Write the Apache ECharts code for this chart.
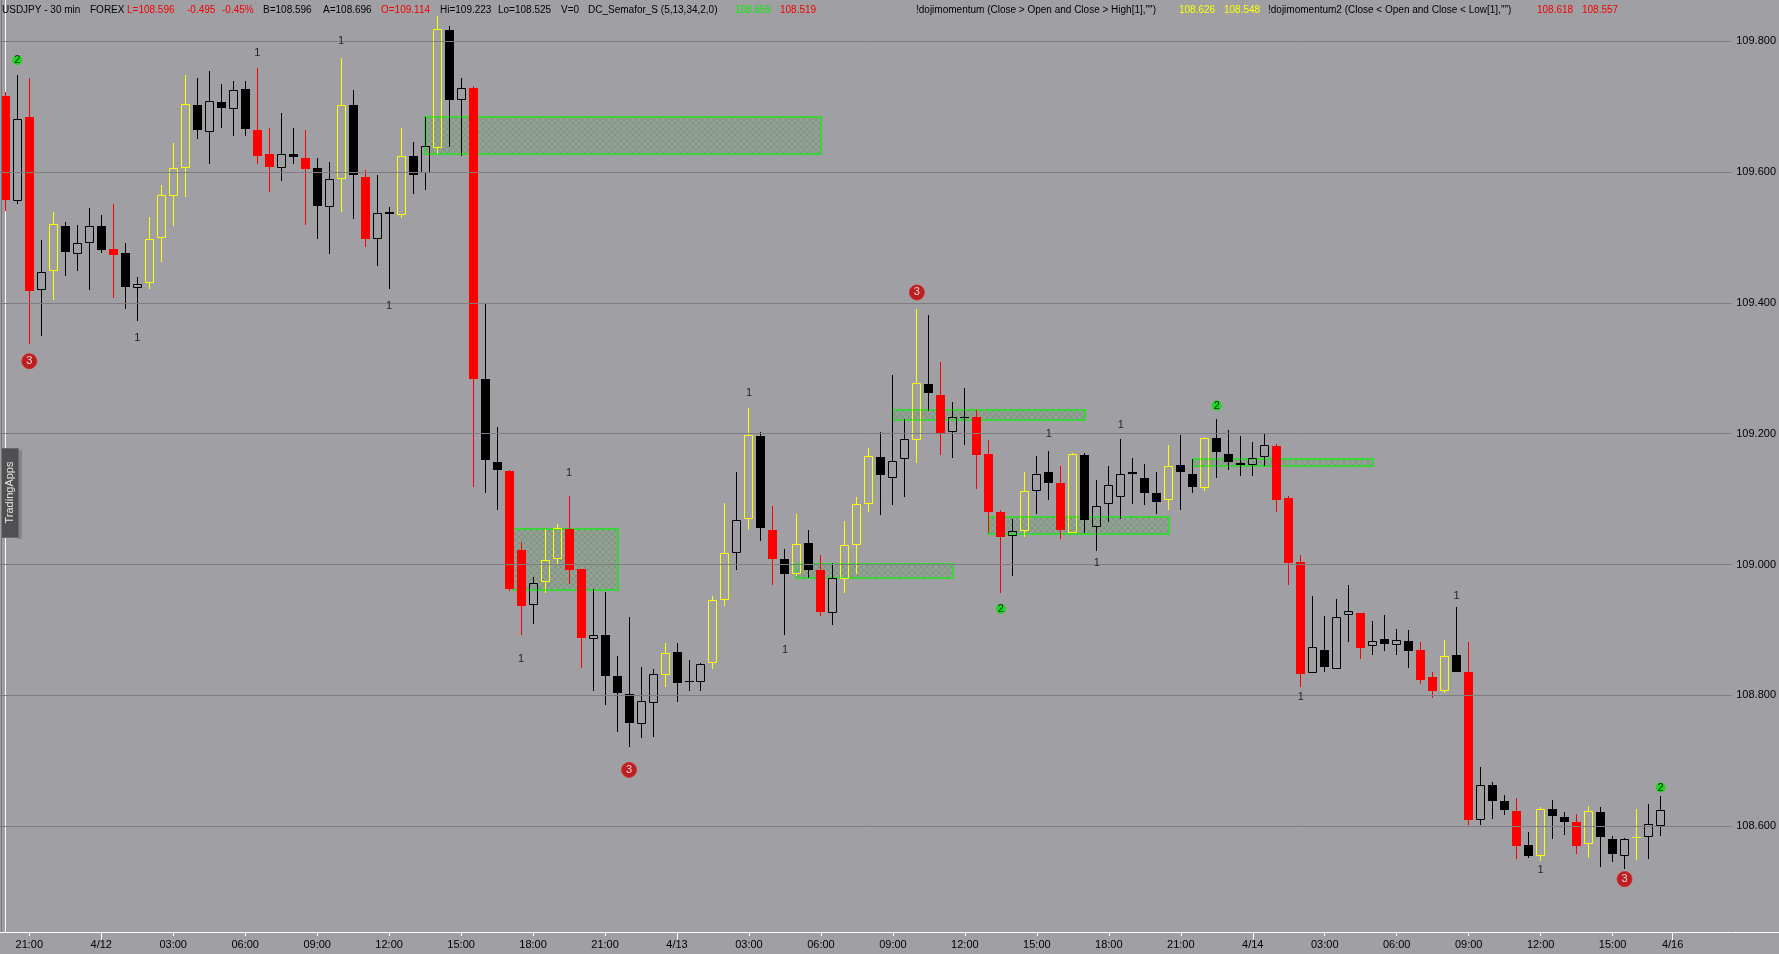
<!DOCTYPE html>
<html><head><meta charset="utf-8">
<script src="https://cdn.jsdelivr.net/npm/echarts@6/dist/echarts.min.js"></script>
<style>html,body{margin:0;padding:0;background:#a0a0a4;overflow:hidden}#chart{width:1779px;height:954px}</style>
</head><body><div id="chart"></div>
<script>
// ---- data: USDJPY 30 min bars, bar 0 = 4/11 20:00 ----
const opens = [109.717,109.556,109.684,109.420,109.449,109.518,109.475,109.492,109.518,109.483,
109.476,109.423,109.431,109.500,109.564,109.607,109.703,109.662,109.707,109.697,
109.727,109.665,109.627,109.607,109.628,109.621,109.607,109.546,109.589,109.703,
109.593,109.497,109.539,109.534,109.624,109.598,109.637,109.817,109.710,109.729,
109.284,109.157,109.143,109.022,108.938,108.974,109.009,109.054,108.993,108.886,
108.893,108.830,108.802,108.756,108.789,108.831,108.866,108.822,108.821,108.849,
108.945,109.017,109.070,109.197,109.053,109.009,108.985,109.033,108.992,108.926,
108.978,109.030,109.093,109.165,109.133,109.161,109.190,109.276,109.259,109.202,
109.226,109.226,109.169,109.080,109.044,109.051,109.113,109.142,109.125,109.048,
109.168,109.057,109.092,109.104,109.142,109.133,109.110,109.098,109.152,109.139,
109.117,109.194,109.169,109.155,109.152,109.164,109.181,109.101,109.004,108.834,
108.870,108.841,108.923,108.926,108.875,108.886,108.877,108.883,108.869,108.828,
108.807,108.862,108.836,108.609,108.663,108.639,108.623,108.571,108.554,108.626,
108.614,108.606,108.573,108.621,108.580,108.554,108.582,108.583,108.600];
const highs = [109.722,109.749,109.744,109.496,109.539,109.524,109.519,109.545,109.535,109.551,
109.492,109.439,109.532,109.581,109.645,109.749,109.744,109.755,109.735,109.740,
109.740,109.759,109.668,109.691,109.668,109.665,109.621,109.616,109.774,109.725,
109.604,109.596,109.546,109.667,109.646,109.684,109.839,109.823,109.744,109.732,
109.399,109.210,109.145,109.034,108.981,109.054,109.062,109.105,108.993,108.962,
108.958,108.860,108.920,108.843,108.841,108.880,108.880,108.854,108.849,108.952,
109.094,109.142,109.239,109.203,109.089,109.023,109.078,109.053,109.015,109.003,
109.067,109.103,109.178,109.203,109.290,109.223,109.391,109.382,109.310,109.249,
109.270,109.237,109.191,109.083,109.069,109.141,109.166,109.174,109.151,109.171,
109.170,109.129,109.151,109.192,109.163,109.154,109.142,109.183,109.198,109.161,
109.195,109.223,109.205,109.196,109.187,109.200,109.184,109.105,109.015,108.952,
108.922,108.948,108.969,108.926,108.914,108.923,108.902,108.900,108.881,108.836,
108.884,108.935,108.881,108.691,108.667,108.648,108.643,108.591,108.629,108.640,
108.621,108.618,108.631,108.629,108.585,108.582,108.626,108.634,108.646];
const lows = [109.540,109.551,109.337,109.350,109.405,109.441,109.449,109.420,109.476,109.408,
109.390,109.373,109.422,109.463,109.518,109.562,109.650,109.612,109.667,109.655,
109.656,109.612,109.569,109.586,109.613,109.519,109.498,109.475,109.539,109.528,
109.485,109.456,109.421,109.530,109.566,109.572,109.628,109.639,109.625,109.118,
109.109,109.084,108.960,108.893,108.909,108.957,109.001,108.970,108.842,108.806,
108.785,108.744,108.721,108.734,108.737,108.812,108.790,108.807,108.807,108.841,
108.936,108.991,109.053,109.036,108.968,108.892,108.982,108.979,108.922,108.908,
108.957,108.986,109.081,109.076,109.091,109.103,109.156,109.235,109.167,109.163,
109.183,109.116,109.048,108.957,108.983,109.042,109.077,109.099,109.039,109.048,
109.048,109.021,109.065,109.069,109.093,109.091,109.077,109.084,109.083,109.109,
109.112,109.132,109.145,109.136,109.135,109.150,109.081,108.968,108.812,108.834,
108.836,108.840,108.882,108.856,108.861,108.868,108.861,108.842,108.818,108.796,
108.804,108.836,108.602,108.602,108.611,108.617,108.550,108.552,108.546,108.580,
108.587,108.557,108.551,108.537,108.545,108.535,108.548,108.550,108.585];
const closes = [109.557,109.681,109.418,109.448,109.520,109.478,109.492,109.517,109.481,109.473,
109.424,109.429,109.498,109.565,109.607,109.704,109.665,109.709,109.698,109.726,
109.666,109.624,109.608,109.628,109.623,109.605,109.548,109.589,109.702,109.596,
109.498,109.537,109.536,109.624,109.596,109.640,109.819,109.711,109.729,109.284,
109.160,109.145,108.962,108.937,108.972,109.007,109.056,108.991,108.888,108.893,
108.829,108.803,108.757,108.792,108.832,108.864,108.819,108.821,108.848,108.946,
109.018,109.068,109.198,109.056,109.009,108.985,109.031,108.992,108.928,108.979,
109.030,109.093,109.166,109.137,109.159,109.192,109.277,109.262,109.199,109.225,
109.225,109.167,109.081,109.042,109.052,109.112,109.138,109.125,109.053,109.169,
109.068,109.090,109.121,109.139,109.138,109.110,109.096,109.150,109.142,109.118,
109.194,109.172,109.157,109.152,109.163,109.182,109.098,109.003,108.833,108.874,
108.844,108.920,108.929,108.873,108.883,108.879,108.884,108.868,108.824,108.806,
108.860,108.836,108.610,108.663,108.638,108.625,108.570,108.555,108.626,108.616,
108.607,108.570,108.623,108.583,108.557,108.580,108.584,108.603,108.625];

const priceTicks = [108.6, 108.8, 109.0, 109.2, 109.4, 109.6, 109.8];
const timeTickBars = [2,8,14,20,26,32,38,44,50,56,62,68,74,80,86,92,98,104,110,116,122,128,134,139];
const timeTickLabels = ['21:00','4/12','03:00','06:00','09:00','12:00','15:00','18:00','21:00','4/13','03:00','06:00',
  '09:00','12:00','15:00','18:00','21:00','4/14','03:00','06:00','09:00','12:00','15:00','4/16'];
const dayTickBars = [8, 56, 104, 139];

// DC_Semafor levels: [bar, price]
const semafor1 = [[11,109.346],[21,109.782],[28,109.800],[32,109.396],[43,108.856],[47,109.140],[62,109.263],
  [65,108.869],[87,109.199],[91,109.002],[93,109.213],[108,108.798],[121,108.952],[128,108.533]];
const semafor2 = [[1,109.771],[83,108.932],[101,109.243],[138,108.659]];
const semafor3 = [[2,109.311],[52,108.686],[76,109.416],[135,108.519]];

// zones: [fromBar, toBar, lowPrice, highPrice]
const zones = [[35,68,109.627,109.685],[42.3,51.05,108.961,109.054],[65.9,79,108.979,109.001],
  [74,90,109.221,109.237],[82,97,109.047,109.073],[99,114,109.150,109.161]];

const lastPrice = 108.625;

// header
const RED = '#f00000', GREEN = '#00f000', YELLOW = '#ffff00';
const header = [
 ['USDJPY - 30 min','#000',2],['FOREX','#000',90],['L=108.596',RED,127],['-0.495',RED,187],['-0.45%',RED,222],
 ['B=108.596','#000',263],['A=108.696','#000',323],['O=109.114',RED,381],['Hi=109.223','#000',440],
 ['Lo=108.525','#000',498],['V=0','#000',561],['DC_Semafor_S (5,13,34,2,0)','#000',588],
 ['108.659',GREEN,735],['108.519',RED,780],
 ['!dojimomentum (Close > Open and Close > High[1],"")','#000',916],['108.626',YELLOW,1179],['108.548',YELLOW,1224],
 ['!dojimomentum2 (Close < Open and Close < Low[1],"")','#000',1268],['108.618',RED,1537],['108.557',RED,1582]
];

// ---- candle classification (dojimomentum rules) ----
function candleType(k){
  const o = opens[k], c = closes[k];
  if (c < o) return (k === 0 || c < lows[k-1]) ? 0 : 1;   // 0 red, 1 black
  return (k > 0 && c > highs[k-1]) ? 2 : 3;                // 2 yellow, 3 hollow
}
const candleData = opens.map((o,k) => [k, o, closes[k], lows[k], highs[k], candleType(k)]);
const CANDLE_COLORS = ['#ff0000','#000000','#ffff00','#000000'];

function renderCandle(params, api){
  const k = api.value(0), o = api.value(1), c = api.value(2), l = api.value(3), h = api.value(4), t = api.value(5);
  const pO = api.coord([k,o]), pC = api.coord([k,c]), pH = api.coord([k,h]), pL = api.coord([k,l]);
  const xc = Math.floor(pO[0]) + 0.5;
  let top = Math.round(Math.min(pO[1], pC[1])), bot = Math.round(Math.max(pO[1], pC[1]));
  if (bot - top < 1) bot = top + 1;
  const yh = Math.round(pH[1]), yl = Math.round(pL[1]);
  const col = CANDLE_COLORS[t];
  const ch = [];
  if (yh < top) ch.push({type:'line', shape:{x1:xc,y1:yh,x2:xc,y2:top}, style:{stroke:col,lineWidth:1}});
  if (yl > bot) ch.push({type:'line', shape:{x1:xc,y1:bot,x2:xc,y2:yl}, style:{stroke:col,lineWidth:1}});
  if (t < 2) {
    ch.push({type:'rect', shape:{x:xc-4.5,y:top,width:9,height:bot-top}, style:{fill:col}});
  } else {
    ch.push({type:'rect', shape:{x:xc-4,y:top+0.5,width:8,height:Math.max(bot-top-1,0)}, style:{fill:'none',stroke:col,lineWidth:1}});
  }
  return {type:'group', children:ch};
}

const pc = document.createElement('canvas'); pc.width = 6; pc.height = 6;
(function(){
  const g = pc.getContext('2d');
  g.fillStyle = 'rgba(105,170,105,0.26)'; g.fillRect(0,0,6,6);
  g.strokeStyle = 'rgba(95,112,95,0.30)'; g.lineWidth = 1;
  g.beginPath(); g.moveTo(0,0); g.lineTo(6,6); g.moveTo(6,0); g.lineTo(0,6); g.stroke();
})();

function renderZone(params, api){
  const p1 = api.coord([api.value(0), api.value(3)]);
  const p2 = api.coord([api.value(1), api.value(2)]);
  const x = Math.round(p1[0]), y = Math.round(p1[1]);
  return {type:'rect', shape:{x:x, y:y, width:Math.round(p2[0])-x, height:Math.round(p2[1])-y},
    style:{fill:{image:pc, repeat:'repeat'}, stroke:'#3ad43a', lineWidth:2}};
}

const FONT = 'Liberation Sans, Arial, sans-serif';
const chart = echarts.init(document.getElementById('chart'), null, {renderer:'canvas'});

const graphics = header.map(h => ({type:'text', left:h[2], top:5, z:100,
  style:{text:h[0], fill:h[1], font:'10px ' + FONT}}));
graphics.push({type:'rect', left:18, top:450, z:90, shape:{width:4, height:89}, style:{fill:'#86868a'}});
graphics.push({type:'rect', left:1, top:448, z:91, shape:{width:17, height:89}, style:{fill:'#505052', stroke:'#6a6a6e', lineWidth:1}});
graphics.push({type:'text', x:9.5, y:492.5, rotation:Math.PI/2, z:92,
  style:{text:'TradingApps', fill:'#e6e6e6', font:'11px ' + FONT, align:'center', verticalAlign:'middle'}});
graphics.push({type:'line', z:95, shape:{x1:1.5,y1:0,x2:1.5,y2:932}, style:{stroke:'#76767a', lineWidth:1}});
graphics.push({type:'line', z:95, shape:{x1:1732,y1:932.5,x2:1779,y2:932.5}, style:{stroke:'#ffffff', lineWidth:1}});

const option = {
  backgroundColor:'#a0a0a4',
  animation:false,
  grid:{left:0, right:47, top:0, bottom:22},
  xAxis:[{
    type:'value', min:-0.4417, max:143.89,
    splitLine:{show:false},
    axisLine:{show:true, lineStyle:{color:'#ffffff', width:1}},
    axisTick:{show:true, customValues:timeTickBars, length:4, lineStyle:{color:'#ffffff'}},
    axisLabel:{show:true, customValues:timeTickBars, margin:7, color:'#000', fontSize:11, fontFamily:FONT,
      formatter:v => { const i = timeTickBars.indexOf(Math.round(v)); return i >= 0 ? timeTickLabels[i] : ''; }}
  },{
    type:'value', min:-0.4417, max:143.89, position:'bottom',
    splitLine:{show:false}, axisLine:{show:false}, axisLabel:{show:false},
    axisTick:{show:true, customValues:dayTickBars, length:8, lineStyle:{color:'#ffffff'}}
  }],
  yAxis:{
    type:'value', position:'right', min:108.4381, max:109.8632, scale:true,
    splitLine:{show:false},
    axisLine:{show:true, lineStyle:{color:'#ffffff', width:1}},
    axisTick:{show:true, customValues:priceTicks, length:4, lineStyle:{color:'#ffffff'}},
    axisLabel:{show:true, customValues:priceTicks, margin:5, color:'#000', fontSize:11, fontFamily:FONT,
      formatter:v => v.toFixed(3)}
  },
  series:[
    {type:'custom', name:'zones', z:1, clip:true, data:zones, renderItem:renderZone,
      encode:{x:[0,1], y:[2,3]}, silent:true,
      markLine:{silent:true, symbol:['none','none'], label:{show:false}, animation:false,
        lineStyle:{color:'#7e7e82', width:1, type:'solid'},
        data:priceTicks.map(v => ({yAxis:v}))}},
    {type:'custom', name:'USDJPY', z:3, clip:true, data:candleData, renderItem:renderCandle,
      encode:{x:0, y:[1,2,3,4]},
      markLine:{silent:true, symbol:['none','none'], animation:false,
        lineStyle:{opacity:0},
        label:{show:true, position:'end', distance:0, formatter:() => lastPrice.toFixed(3),
          backgroundColor:'#000', color:'#e0e0e0', padding:[2,4,1,4], fontSize:11, fontFamily:FONT},
        data:[{yAxis:lastPrice}]}},
    {type:'scatter', name:'semafor1', z:5, data:semafor1, symbol:'circle', symbolSize:1,
      itemStyle:{color:'rgba(0,0,0,0)'},
      label:{show:true, position:'inside', formatter:'1', color:'#000', fontSize:11, fontFamily:FONT}},
    {type:'scatter', name:'semafor2', z:5, data:semafor2, symbol:'circle', symbolSize:10,
      itemStyle:{color:'#00e400'},
      label:{show:true, position:'inside', formatter:'2', color:'#000', fontSize:11, fontFamily:FONT}},
    {type:'scatter', name:'semafor3', z:5, data:semafor3, symbol:'circle', symbolSize:15,
      itemStyle:{color:'#c00000', borderColor:'#e02020', borderWidth:1},
      label:{show:true, position:'inside', formatter:'3', color:'#ffffff', fontSize:11, fontFamily:FONT}}
  ],
  graphic:graphics
};
chart.setOption(option);
</script></body></html>
